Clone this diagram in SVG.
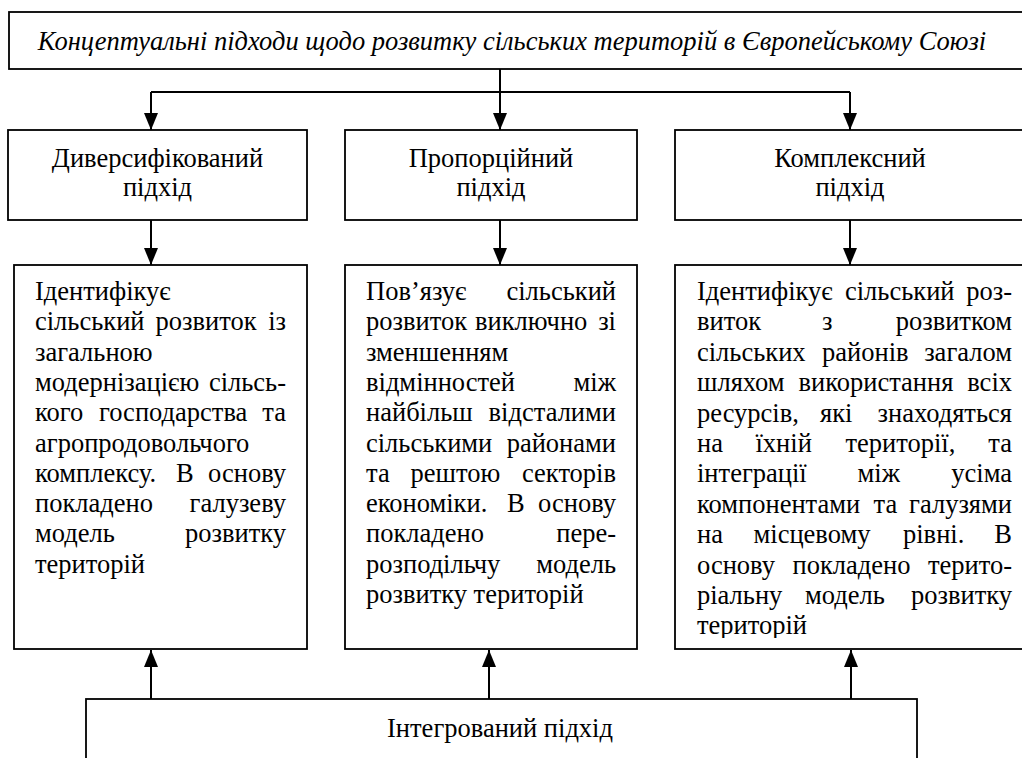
<svg xmlns="http://www.w3.org/2000/svg" width="1022" height="758" viewBox="0 0 1022 758">
<defs>
<style>
.box{fill:#fff;stroke:#000;stroke-width:1.8}
.t{font-family:"Liberation Serif","Times New Roman",serif;font-size:26.5px;fill:#000}
.c{text-anchor:middle}
.r{text-anchor:end}
.ti{font-family:"Liberation Serif","Times New Roman",serif;font-size:26.5px;font-style:italic;fill:#000;text-anchor:middle}
.ln{fill:none;stroke:#000;stroke-width:2}
</style>
<marker id="ah" viewBox="0 0 17 14" refX="17" refY="7" markerWidth="17" markerHeight="14" orient="auto" markerUnits="userSpaceOnUse">
<path d="M0,0 L17,7 L0,14 z" fill="#000"/>
</marker>
<clipPath id="clip3"><rect x="675" y="265" width="360" height="373"/></clipPath>
</defs>
<rect width="1022" height="758" fill="#fff"/>

<g id="connectors">
<path class="ln" d="M500,69 V92 M151,92 H850"/>
<path class="ln" d="M151,92 V130" marker-end="url(#ah)"/>
<path class="ln" d="M500,92 V130" marker-end="url(#ah)"/>
<path class="ln" d="M850,92 V130" marker-end="url(#ah)"/>
<path class="ln" d="M151,220 V265" marker-end="url(#ah)"/>
<path class="ln" d="M500,220 V265" marker-end="url(#ah)"/>
<path class="ln" d="M850,220 V265" marker-end="url(#ah)"/>
<path class="ln" d="M151,699 V650" marker-end="url(#ah)"/>
<path class="ln" d="M489,699 V650" marker-end="url(#ah)"/>
<path class="ln" d="M851,699 V650" marker-end="url(#ah)"/>
</g>

<g id="title">
<rect class="box" x="9" y="12" width="1030" height="57"/>
<text class="ti" x="512" y="50">Концептуальні підходи щодо розвитку сільських територій в Європейському Союзі</text>
</g>

<g id="diversified">
<rect class="box" x="8" y="130" width="299" height="90"/>
<text class="t c" x="157.5" y="167">Диверсифікований</text>
<text class="t c" x="157.5" y="196">підхід</text>
</g>

<g id="proportional">
<rect class="box" x="345" y="130" width="292" height="90"/>
<text class="t c" x="491" y="167">Пропорційний</text>
<text class="t c" x="491" y="196">підхід</text>
</g>

<g id="complex">
<rect class="box" x="675" y="130" width="360" height="90"/>
<text class="t c" x="850" y="167">Комплексний</text>
<text class="t c" x="850" y="196">підхід</text>
</g>

<g id="desc1">
<rect class="box" x="14" y="265" width="293" height="384"/>
<text class="t" x="35" y="300">Ідентифікує</text>
<text class="t" y="330.3"><tspan x="35">сільський</tspan><tspan x="155.5">розвиток</tspan></text>
<text class="t r" x="286" y="330.3">із</text>
<text class="t" x="35" y="360.6">загальною</text>
<text class="t" x="35" y="390.9">модернізацією</text>
<text class="t r" x="286" y="390.9">сільсь-</text>
<text class="t" y="421.2"><tspan x="35">кого</tspan><tspan x="99">господарства</tspan></text>
<text class="t r" x="286" y="421.2">та</text>
<text class="t" x="35" y="451.5">агропродовольчого</text>
<text class="t" y="481.8"><tspan x="35">комплексу.</tspan><tspan x="176">В</tspan></text>
<text class="t r" x="286" y="481.8">основу</text>
<text class="t" x="35" y="512.1">покладено</text>
<text class="t r" x="286" y="512.1">галузеву</text>
<text class="t" x="35" y="542.4">модель</text>
<text class="t r" x="286" y="542.4">розвитку</text>
<text class="t" x="35" y="572.7">територій</text>
</g>

<g id="desc2">
<rect class="box" x="345" y="265" width="292" height="384"/>
<text class="t" x="366" y="300">Пов’язує</text>
<text class="t r" x="616" y="300">сільський</text>
<text class="t" y="330.3"><tspan x="366">розвиток</tspan><tspan x="475">виключно</tspan></text>
<text class="t r" x="616" y="330.3">зі</text>
<text class="t" x="366" y="360.6">зменшенням</text>
<text class="t" x="366" y="390.9">відмінностей</text>
<text class="t r" x="616" y="390.9">між</text>
<text class="t" x="366" y="421.2">найбільш</text>
<text class="t r" x="616" y="421.2">відсталими</text>
<text class="t" x="366" y="451.5">сільськими</text>
<text class="t r" x="616" y="451.5">районами</text>
<text class="t" y="481.8"><tspan x="366">та</tspan><tspan x="410.5">рештою</tspan></text>
<text class="t r" x="616" y="481.8">секторів</text>
<text class="t" y="512.1"><tspan x="366">економіки.</tspan><tspan x="507">В</tspan></text>
<text class="t r" x="616" y="512.1">основу</text>
<text class="t" x="366" y="542.4">покладено</text>
<text class="t r" x="616" y="542.4">пере-</text>
<text class="t" x="366" y="572.7">розподільчу</text>
<text class="t r" x="616" y="572.7">модель</text>
<text class="t" x="366" y="603">розвитку територій</text>
</g>

<g id="desc3">
<rect class="box" x="675" y="265" width="360" height="384"/>
<g clip-path="url(#clip3)">
<text class="t" y="300"><tspan x="697">Ідентифікує</tspan><tspan x="845">сільський</tspan></text>
<text class="t r" x="1012" y="300">роз-</text>
<text class="t" y="330.4"><tspan x="697">виток</tspan><tspan x="822">з</tspan></text>
<text class="t r" x="1012" y="330.4">розвитком</text>
<text class="t" y="360.8"><tspan x="697">сільських</tspan><tspan x="822">районів</tspan></text>
<text class="t r" x="1012" y="360.8">загалом</text>
<text class="t" y="391.2"><tspan x="697">шляхом</tspan><tspan x="798.5">використання</tspan></text>
<text class="t r" x="1012" y="391.2">всіх</text>
<text class="t" y="421.6"><tspan x="697">ресурсів,</tspan><tspan x="820">які</tspan></text>
<text class="t r" x="1012" y="421.6">знаходяться</text>
<text class="t" y="452"><tspan x="697">на</tspan><tspan x="755.5">їхній</tspan><tspan x="845.5">території,</tspan></text>
<text class="t r" x="1012" y="452">та</text>
<text class="t" y="482.4"><tspan x="697">інтеграції</tspan><tspan x="857.5">між</tspan></text>
<text class="t r" x="1012" y="482.4">усіма</text>
<text class="t" y="512.8"><tspan x="697">компонентами</tspan><tspan x="873.5">та</tspan></text>
<text class="t r" x="1012" y="512.8">галузями</text>
<text class="t" y="543.2"><tspan x="697">на</tspan><tspan x="753.5">місцевому</tspan><tspan x="903">рівні.</tspan></text>
<text class="t r" x="1012" y="543.2">В</text>
<text class="t" y="573.6"><tspan x="697">основу</tspan><tspan x="792.5">покладено</tspan></text>
<text class="t r" x="1012" y="573.6">терито-</text>
<text class="t" y="604"><tspan x="697">ріальну</tspan><tspan x="805">модель</tspan></text>
<text class="t r" x="1012" y="604">розвитку</text>
<text class="t" x="697" y="634.4">територій</text>
</g>
</g>

<g id="integrated">
<rect class="box" x="86" y="699" width="831" height="80"/>
<text class="t c" x="500" y="737">Інтегрований підхід</text>
</g>
</svg>
